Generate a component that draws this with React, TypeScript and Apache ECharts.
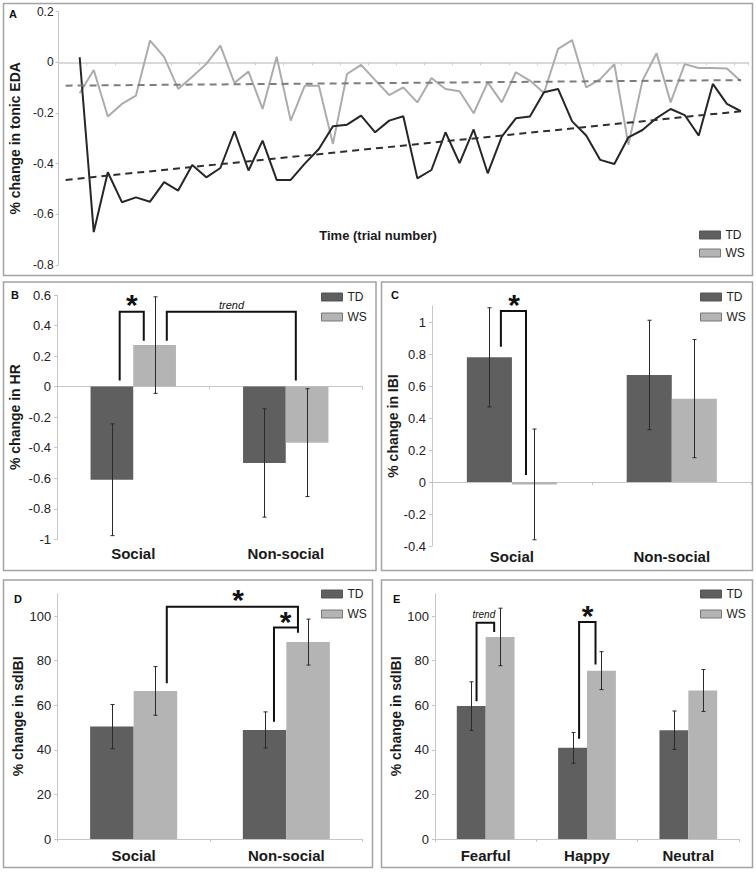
import React, { useEffect, useRef } from "react";
import * as echarts from "echarts";

const FONT = "'Liberation Sans', Arial, Helvetica, sans-serif";
const TD_BAR = "#5f5f5f";
const WS_BAR = "#b4b4b4";
const AXIS_GRAY = "#c6c6c6";
const INK = "#1a1a1a";

// ---------- Panel A: tonic EDA over trials ----------
const trials = Array.from({ length: 49 }, (_, i) => String(i + 1));
// values for trials 2..49
const edaTD = [
  0.02, -0.67, -0.434, -0.552, -0.533, -0.55, -0.473, -0.506, -0.405, -0.454,
  -0.417, -0.272, -0.427, -0.309, -0.464, -0.464, -0.4, -0.342, -0.252, -0.246,
  -0.21, -0.276, -0.23, -0.213, -0.458, -0.425, -0.276, -0.398, -0.265, -0.438,
  -0.293, -0.221, -0.214, -0.118, -0.105, -0.233, -0.289, -0.385, -0.401, -0.296,
  -0.267, -0.22, -0.184, -0.208, -0.289, -0.085, -0.164, -0.193,
];
const edaWS = [
  -0.122, -0.03, -0.214, -0.164, -0.131, 0.086, 0.022, -0.105, -0.057, -0.006,
  0.066, -0.081, -0.036, -0.184, 0.022, -0.23, -0.092, -0.092, -0.322, -0.046,
  -0.01, -0.07, -0.129, -0.099, -0.158, -0.062, -0.105, -0.114, -0.201, -0.079,
  -0.158, -0.039, -0.072, -0.121, 0.053, 0.088, -0.099, -0.066, -0.007, -0.325,
  -0.072, 0.036, -0.158, -0.007, -0.022, -0.022, -0.024, -0.075,
];
// linear trend end points (trial 1 and trial 49)
const edaTrendTD = [-0.464, -0.193];
const edaTrendWS = [-0.092, -0.07];

// ---------- Panel B: HR ----------
const socialCats = ["Social", "Non-social"];
const hrTD = [-0.61, -0.5];
const hrTDErr = [0.366, 0.355];
const hrWS = [0.272, -0.367];
const hrWSErr = [0.316, 0.353];

// ---------- Panel C: IBI ----------
const ibiTD = [0.779, 0.669];
const ibiTDErr = [0.31, 0.342];
const ibiWS = [-0.015, 0.521];
const ibiWSErr = [0.346, 0.369];

// ---------- Panel D: sdIBI social ----------
const sdTD = [50.4, 48.9];
const sdTDErr = [9.9, 8.1];
const sdWS = [66.4, 88.3];
const sdWSErr = [10.9, 10.3];

// ---------- Panel E: sdIBI emotions ----------
const emotionCats = ["Fearful", "Happy", "Neutral"];
const emoTD = [59.6, 40.9, 48.8];
const emoTDErr = [10.9, 6.9, 8.6];
const emoWS = [90.6, 75.5, 66.6];
const emoWSErr = [12.9, 8.5, 9.4];

type Bracket = { c1: number; f1: number; y1: number; top: number; c2: number; f2: number; y2: number };
type Note = { c: number; f: number; y: number; text: string; size: number; italic?: boolean };

type BarPanel = {
  grid: { left: number; top: number; width: number; height: number };
  cats: string[];
  td: number[];
  tdErr: number[];
  ws: number[];
  wsErr: number[];
  min: number;
  max: number;
  interval: number;
  yName: string;
  nameGap: number;
  gap: number;
  labelMargin: number;
  legendPos: { left: number; top: number };
  brackets: Bracket[];
  notes: Note[];
  showMaxLabel: boolean;
};

const panels: BarPanel[] = [
  {
    grid: { left: 57, top: 295, width: 305, height: 244.3 },
    cats: socialCats, td: hrTD, tdErr: hrTDErr, ws: hrWS, wsErr: hrWSErr,
    min: -1, max: 0.6, interval: 0.2, yName: "% change in HR", nameGap: 35,
    gap: 0.44, labelMargin: 7, legendPos: { left: 321, top: 291 },
    brackets: [
      { c1: 0, f1: -0.089, y1: 0.04, top: 0.49, c2: 0, f2: 0.069, y2: 0.3 },
      { c1: 0, f1: 0.22, y1: 0.3, top: 0.49, c2: 1, f2: 0.066, y2: 0.04 },
    ],
    notes: [
      { c: 0, f: -0.01, y: 0.547, text: "*", size: 30 },
      { c: 0, f: 0.644, y: 0.534, text: "trend", size: 11, italic: true },
    ],
    showMaxLabel: true,
  },
  {
    grid: { left: 432, top: 306, width: 319.7, height: 240 },
    cats: socialCats, td: ibiTD, tdErr: ibiTDErr, ws: ibiWS, wsErr: ibiWSErr,
    min: -0.4, max: 1.1, interval: 0.2, yName: "% change in IBI", nameGap: 30,
    gap: 0.436, labelMargin: 3, legendPos: { left: 700, top: 291 },
    brackets: [{ c1: 0, f1: -0.069, y1: 0.846, top: 1.069, c2: 0, f2: 0.088, y2: 0.044 }],
    notes: [{ c: 0, f: 0.014, y: 1.119, text: "*", size: 30 }],
    showMaxLabel: false,
  },
  {
    grid: { left: 57.3, top: 593.7, width: 305.4, height: 245.3 },
    cats: socialCats, td: sdTD, tdErr: sdTDErr, ws: sdWS, wsErr: sdWSErr,
    min: 0, max: 110, interval: 20, yName: "% change in sdIBI", nameGap: 32,
    gap: 0.43, labelMargin: 9, legendPos: { left: 321, top: 588 },
    brackets: [
      { c1: 0, f1: 0.217, y1: 69.8, top: 104.2, c2: 1, f2: 0.076, y2: 92.5 },
      { c1: 1, f1: -0.081, y1: 52.6, top: 94.8, c2: 1, f2: 0.076, y2: 94.8 },
    ],
    notes: [
      { c: 0, f: 0.684, y: 108, text: "*", size: 30 },
      { c: 1, f: -0.005, y: 98.2, text: "*", size: 30 },
    ],
    showMaxLabel: false,
  },
  {
    grid: { left: 435, top: 593.7, width: 304, height: 245.3 },
    cats: emotionCats, td: emoTD, tdErr: emoTDErr, ws: emoWS, wsErr: emoWSErr,
    min: 0, max: 110, interval: 20, yName: "% change in sdIBI", nameGap: 31,
    gap: 0.43, labelMargin: 9, legendPos: { left: 700, top: 588 },
    brackets: [
      { c1: 0, f1: -0.09, y1: 61.8, top: 97, c2: 0, f2: 0.084, y2: 92.8 },
      { c1: 1, f1: -0.078, y1: 45, top: 97.3, c2: 1, f2: 0.084, y2: 78.2 },
    ],
    notes: [
      { c: 0, f: -0.018, y: 100.7, text: "trend", size: 10, italic: true },
      { c: 1, f: 0.005, y: 100.7, text: "*", size: 30 },
    ],
    showMaxLabel: false,
  },
];

const legendData = [
  { name: "TD", icon: "rect", itemStyle: { color: TD_BAR, borderColor: "#555", borderWidth: 1 } },
  { name: "WS", icon: "rect", itemStyle: { color: WS_BAR, borderColor: "#777", borderWidth: 1 } },
];

function makeLegend(left: number, top: number, gap: number) {
  return {
    orient: "vertical",
    left,
    top,
    itemWidth: 21,
    itemHeight: 8,
    itemGap: gap,
    padding: 0,
    selectedMode: false,
    textStyle: { fontSize: 12, fontFamily: FONT, color: "#222" },
    data: legendData,
  };
}

function buildOption() {
  const grids: any[] = [{ left: 53, top: 11.7, width: 695, height: 253.3 }];
  const xAxes: any[] = [
    {
      type: "category",
      gridIndex: 0,
      data: trials,
      boundaryGap: true,
      axisLine: { onZero: true, lineStyle: { color: "#cdcdcd", width: 1.5 } },
      axisTick: { show: true, interval: 1, length: 3, lineStyle: { color: "#cdcdcd" } },
      axisLabel: { show: false },
    },
  ];
  const yAxes: any[] = [
    {
      type: "value",
      gridIndex: 0,
      min: -0.8,
      max: 0.2,
      interval: 0.2,
      axisLine: { show: true, lineStyle: { color: AXIS_GRAY } },
      axisTick: { show: true, length: 3, lineStyle: { color: AXIS_GRAY } },
      splitLine: { show: false },
      axisLabel: { fontSize: 12, fontFamily: FONT, color: "#222", margin: 5 },
      name: "% change in tonic EDA",
      nameLocation: "middle",
      nameGap: 32,
      nameTextStyle: { fontSize: 14, fontWeight: "bold", fontFamily: FONT, color: INK },
    },
  ];
  const barSeries: any[] = [];
  const extraSeries: any[] = [];
  const legends: any[] = [makeLegend(699, 229, 6)];

  panels.forEach((p, pi) => {
    const gi = pi + 1;
    grids.push({ ...p.grid });
    const xl = xAxes.length;
    xAxes.push({
      type: "category",
      gridIndex: gi,
      data: p.cats,
      position: "bottom",
      axisLine: { show: false, onZero: false },
      axisTick: { show: false },
      axisLabel: { fontSize: 15, fontWeight: "bold", fontFamily: FONT, color: INK, margin: p.labelMargin },
    });
    xAxes.push({
      type: "category",
      gridIndex: gi,
      data: p.cats,
      position: "bottom",
      axisLine: { show: true, onZero: true, lineStyle: { color: AXIS_GRAY } },
      axisTick: { show: true, length: 3, lineStyle: { color: AXIS_GRAY } },
      axisLabel: { show: false },
    });
    const yi = yAxes.length;
    yAxes.push({
      type: "value",
      gridIndex: gi,
      min: p.min,
      max: p.max,
      interval: p.interval,
      axisLine: { show: true, lineStyle: { color: AXIS_GRAY } },
      axisTick: { show: true, length: 3, lineStyle: { color: AXIS_GRAY } },
      splitLine: { show: false },
      axisLabel: { fontSize: 13, fontFamily: FONT, color: "#222", margin: 6, showMaxLabel: p.showMaxLabel },
      name: p.yName,
      nameLocation: "middle",
      nameGap: p.nameGap,
      nameTextStyle: { fontSize: 14, fontWeight: "bold", fontFamily: FONT, color: INK },
    });
    legends.push(makeLegend(p.legendPos.left, p.legendPos.top, 8));

    const common = {
      type: "bar",
      xAxisIndex: xl,
      yAxisIndex: yi,
      barGap: "0%",
      barCategoryGap: `${p.gap * 100}%`,
      silent: true,
    };
    barSeries.push({ ...common, name: "TD", data: p.td, itemStyle: { color: TD_BAR } });
    barSeries.push({ ...common, name: "WS", data: p.ws, itemStyle: { color: WS_BAR } });

    const errItems: number[][] = [];
    p.td.forEach((v, i) => errItems.push([i, v - p.tdErr[i], v + p.tdErr[i], 0]));
    p.ws.forEach((v, i) => errItems.push([i, v - p.wsErr[i], v + p.wsErr[i], 1]));
    extraSeries.push({
      type: "custom",
      xAxisIndex: xl,
      yAxisIndex: yi,
      data: errItems,
      encode: { x: 0, y: [1, 2] },
      clip: false,
      silent: true,
      z: 5,
      renderItem: (params: any, api: any) => {
        const ci = api.value(0);
        const lo = api.value(1);
        const hi = api.value(2);
        const side = api.value(3);
        const band = api.size([1, 0])[0];
        const barW = (band * (1 - p.gap)) / 2;
        const cx = Math.round(api.coord([ci, 0])[0] + (side === 0 ? -barW / 2 : barW / 2)) + 0.5;
        const yLo = api.coord([ci, lo])[1];
        const yHi = api.coord([ci, hi])[1];
        const cap = 2;
        const st = { stroke: "#2a2a2a", lineWidth: 1 };
        return {
          type: "group",
          children: [
            { type: "line", shape: { x1: cx, y1: yLo, x2: cx, y2: yHi }, style: st },
            { type: "line", shape: { x1: cx - cap, y1: yLo, x2: cx + cap, y2: yLo }, style: st },
            { type: "line", shape: { x1: cx - cap, y1: yHi, x2: cx + cap, y2: yHi }, style: st },
          ],
        };
      },
    });

    extraSeries.push({
      type: "custom",
      xAxisIndex: xl,
      yAxisIndex: yi,
      data: p.brackets.map((b) => [b.c1, b.top]),
      clip: false,
      silent: true,
      z: 6,
      renderItem: (params: any, api: any) => {
        const b = p.brackets[params.dataIndex];
        const band = api.size([1, 0])[0];
        const X = (c: number, f: number) => api.coord([c, 0])[0] + f * band;
        const Y = (v: number) => api.coord([0, v])[1];
        const xa = X(b.c1, b.f1);
        const xb = X(b.c2, b.f2);
        return {
          type: "polyline",
          shape: {
            points: [
              [xa, Y(b.y1)],
              [xa, Y(b.top)],
              [xb, Y(b.top)],
              [xb, Y(b.y2)],
            ],
          },
          style: { stroke: "#111", lineWidth: 2, fill: "none" },
        };
      },
    });

    extraSeries.push({
      type: "custom",
      xAxisIndex: xl,
      yAxisIndex: yi,
      data: p.notes.map((n) => [n.c, n.y]),
      clip: false,
      silent: true,
      z: 7,
      renderItem: (params: any, api: any) => {
        const n = p.notes[params.dataIndex];
        const band = api.size([1, 0])[0];
        const x = api.coord([n.c, 0])[0] + n.f * band;
        const y = api.coord([0, n.y])[1] + (n.text === "*" ? n.size * 0.05 : 0);
        return {
          type: "text",
          x,
          y,
          style: {
            text: n.text,
            fill: "#111",
            fontSize: n.size,
            fontWeight: n.italic ? "normal" : "bold",
            fontStyle: n.italic ? "italic" : "normal",
            fontFamily: FONT,
            align: "center",
            verticalAlign: "middle",
          },
        };
      },
    });
  });

  const lineSeries: any[] = [
    {
      type: "line",
      name: "WS",
      xAxisIndex: 0,
      yAxisIndex: 0,
      data: edaWS.map((v, i) => [trials[i + 1], v]),
      symbol: "none",
      lineStyle: { color: "#acacac", width: 2 },
      itemStyle: { color: "#acacac" },
      z: 3,
      silent: true,
    },
    {
      type: "line",
      name: "TD",
      xAxisIndex: 0,
      yAxisIndex: 0,
      data: edaTD.map((v, i) => [trials[i + 1], v]),
      symbol: "none",
      lineStyle: { color: "#262626", width: 2 },
      itemStyle: { color: "#262626" },
      z: 4,
      silent: true,
    },
    {
      type: "line",
      xAxisIndex: 0,
      yAxisIndex: 0,
      data: [
        [trials[0], edaTrendWS[0]],
        [trials[trials.length - 1], edaTrendWS[1]],
      ],
      symbol: "none",
      lineStyle: { color: "#7d7d7d", width: 2, type: [7, 5] },
      z: 5,
      silent: true,
    },
    {
      type: "line",
      xAxisIndex: 0,
      yAxisIndex: 0,
      data: [
        [trials[0], edaTrendTD[0]],
        [trials[trials.length - 1], edaTrendTD[1]],
      ],
      symbol: "none",
      lineStyle: { color: "#2e2e2e", width: 2, type: [7, 5] },
      z: 5,
      silent: true,
    },
  ];

  const border = { fill: "none", stroke: "#a3a3a3", lineWidth: 1.5 };
  const letterStyle = (t: string) => ({ text: t, fontSize: 11, fontWeight: "bold", fontFamily: FONT, fill: "#111" });
  const graphic = [
    { type: "rect", silent: true, shape: { x: 3.5, y: 3.5, width: 749, height: 272 }, style: border },
    { type: "rect", silent: true, shape: { x: 3.5, y: 282, width: 372.5, height: 288.5 }, style: border },
    { type: "rect", silent: true, shape: { x: 381.5, y: 282, width: 371, height: 288.5 }, style: border },
    { type: "rect", silent: true, shape: { x: 3.5, y: 580, width: 369, height: 287.5 }, style: border },
    { type: "rect", silent: true, shape: { x: 381.5, y: 580, width: 371, height: 287.5 }, style: border },
    { type: "text", silent: true, x: 9, y: 8, style: letterStyle("A") },
    { type: "text", silent: true, x: 11, y: 289, style: letterStyle("B") },
    { type: "text", silent: true, x: 391, y: 289, style: letterStyle("C") },
    { type: "text", silent: true, x: 14, y: 593, style: letterStyle("D") },
    { type: "text", silent: true, x: 393, y: 593, style: letterStyle("E") },
    {
      type: "text",
      silent: true,
      x: 378,
      y: 235,
      style: {
        text: "Time (trial number)",
        fontSize: 13,
        fontWeight: "bold",
        fontFamily: FONT,
        fill: INK,
        align: "center",
        verticalAlign: "middle",
      },
    },
  ];

  return {
    animation: false,
    backgroundColor: "#ffffff",
    textStyle: { fontFamily: FONT },
    grid: grids,
    xAxis: xAxes,
    yAxis: yAxes,
    legend: legends,
    series: [...barSeries, ...lineSeries, ...extraSeries],
    graphic,
  };
}

export default function App() {
  const ref = useRef<HTMLDivElement>(null);
  useEffect(() => {
    if (!ref.current) return;
    const chart = echarts.init(ref.current, null, { renderer: "svg" });
    chart.setOption(buildOption() as any);
    return () => chart.dispose();
  }, []);
  return (
    <div
      ref={ref}
      style={{ position: "fixed", left: 0, top: 0, width: 756, height: 876, background: "#fff" }}
    />
  );
}
